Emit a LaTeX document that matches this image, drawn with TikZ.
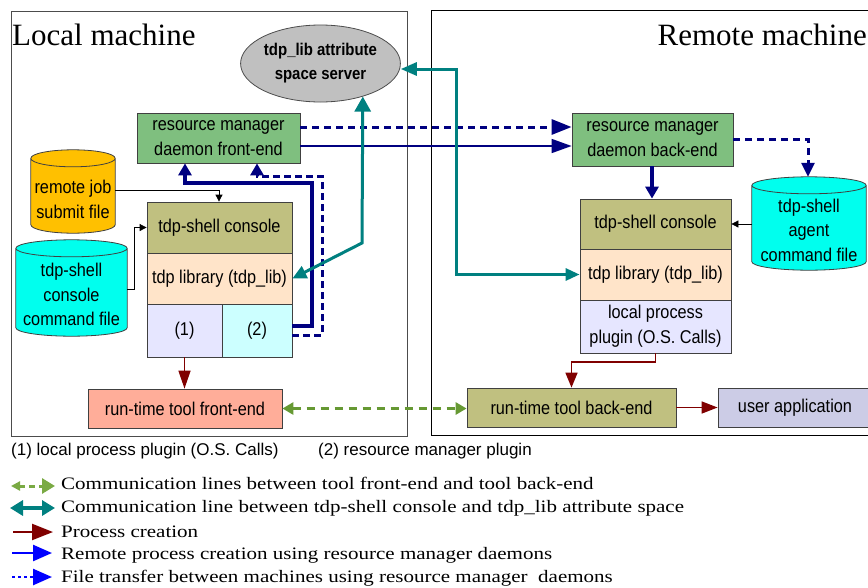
\documentclass[tikz,border=0pt]{standalone}
\usepackage{fontspec}
\setmainfont{Liberation Serif}
\newfontfamily\boxfont[FakeStretch=0.88]{Liberation Sans}
\newfontfamily\notefont{Liberation Sans}
\newfontfamily\legfont[FakeStretch=1.2]{Liberation Serif}
\usetikzlibrary{arrows.meta,shapes.geometric,calc}
\definecolor{cfe}{HTML}{7FBF7F}
\definecolor{colive}{HTML}{C0C080}
\definecolor{cpeach}{HTML}{FFE4C9}
\definecolor{clav}{HTML}{E6E6FF}
\definecolor{clcyan}{HTML}{CCFFFF}
\definecolor{csalmon}{HTML}{FFAD99}
\definecolor{corange}{HTML}{FFC000}
\definecolor{ccyan}{HTML}{00FFEE}
\definecolor{cgray}{HTML}{C0C0C0}
\definecolor{cua}{HTML}{CCCCE6}
\definecolor{navyb}{HTML}{000080}
\definecolor{tealc}{HTML}{008080}
\definecolor{redd}{HTML}{800000}
\definecolor{greend}{HTML}{669933}
\definecolor{greenl}{HTML}{7AAA44}
\definecolor{blueb}{HTML}{0000FF}
\newcommand\drawcyl[2]{%
  \path[draw=black!75, line width=0.8pt, fill=#2] let \p1=(#1.north west), \p2=(#1.south east) in
   ({\x1},{\y1-8.5pt}) -- ({\x1},{\y2+8.5pt})
   arc[start angle=180,end angle=360,x radius={(\x2-\x1)/2},y radius=8.5pt]
   -- ({\x2},{\y1-8.5pt})
   arc[start angle=0,end angle=180,x radius={(\x2-\x1)/2},y radius=8.5pt] -- cycle
   ({\x1},{\y1-8.5pt}) arc[start angle=180,end angle=360,x radius={(\x2-\x1)/2},y radius=8.5pt];}
\begin{document}
\begin{tikzpicture}[x=1pt,y=-1pt,
  box/.style={draw=black!75, line width=0.8pt, inner sep=0pt, align=center,
    font=\boxfont\fontsize{18.5}{25}\selectfont},
  cylarea/.style={draw=none, inner sep=0pt},
  cyltext/.style={inner sep=0pt, align=center, font=\boxfont\fontsize{18.5}{24.5}\selectfont},
  note/.style={anchor=west, inner sep=0pt, font=\notefont\fontsize{17}{20}\selectfont},
  legtext/.style={anchor=west, inner sep=0pt, font=\legfont\fontsize{17.5}{20}\selectfont},
  thinblk/.style={black, line width=0.8pt, -{Triangle[length=7pt,width=7pt]}},
  procarrow/.style={redd, line width=1.6pt},
  rmdash/.style={navyb, line width=3pt, dash pattern=on 7pt off 5pt},
  rmsolid/.style={navyb, line width=3.5pt},
  tealline/.style={tealc, line width=3pt}
]
\useasboundingbox (0,0) rectangle (868,587);
\fill[white] (0,0) rectangle (868,587);

% machine frames
\draw[black!70, line width=1pt] (11,11) rectangle (407,436);
\draw[black, line width=1pt] (431,10) rectangle (885,435);
\node[anchor=base west, inner sep=0pt, font=\fontsize{31}{31}\selectfont] (lmt) at (12,45) {Local machine};
\node[anchor=base east, inner sep=0pt, font=\fontsize{31}{31}\selectfont] (rmt) at (867,45) {Remote machine};

% attribute space server
\node[ellipse, draw=black!70, line width=0.8pt, fill=cgray, minimum width=151pt, minimum height=77pt,
  inner sep=0pt, align=center, font=\boxfont\bfseries\fontsize{17}{24}\selectfont] (ell) at (320.5,63.5)
  {tdp\_lib attribute\\space server};

% local machine
\node[box, fill=cfe, minimum width=163pt, minimum height=50pt] (fe) at (218.5,138) {resource manager\\daemon front-end};
\node[box, fill=colive, minimum width=145pt, minimum height=51pt] (conL) at (219.5,227.5) {tdp-shell console};
\node[box, fill=cpeach, minimum width=145pt, minimum height=51pt] (libL) at (219.5,278.5) {tdp library (tdp\_lib)};
\node[box, fill=clav, minimum width=75pt, minimum height=53pt] (p1) at (184.5,330.5) {(1)};
\node[box, fill=clcyan, minimum width=70pt, minimum height=53pt] (p2) at (257,330.5) {(2)};
\node[box, fill=csalmon, minimum width=194pt, minimum height=39pt] (rtfe) at (185,408.5) {run-time tool front-end};

\node[cylarea, minimum width=84pt, minimum height=83pt] (rj) at (73,191.5) {};
\drawcyl{rj}{corange}
\node[cyltext] (rjt) at (73,199.5) {remote job\\submit file};
\node[cylarea, minimum width=111pt, minimum height=96pt] (cf) at (71.5,288) {};
\drawcyl{cf}{ccyan}
\node[cyltext] (cft) at (71.5,294.5) {tdp-shell\\console\\command file};

% remote machine
\node[box, fill=cfe, minimum width=161pt, minimum height=53pt] (be) at (652.5,139.5) {resource manager\\daemon back-end};
\node[box, fill=colive, minimum width=151pt, minimum height=50pt] (conR) at (655.5,224) {tdp-shell console};
\node[box, fill=cpeach, minimum width=151pt, minimum height=51pt] (libR) at (655.5,274.5) {tdp library (tdp\_lib)};
\node[box, fill=clav, minimum width=151pt, minimum height=53pt] (plug) at (655.5,326.5) {local process\\plugin (O.S. Calls)};
\node[box, fill=colive, minimum width=209pt, minimum height=39pt] (rtbe) at (571.5,407.5) {run-time tool back-end};
\node[box, fill=cua, minimum width=154pt, minimum height=39pt] (ua) at (795,407.5) {user application};

\node[cylarea, minimum width=114pt, minimum height=93pt] (agent) at (809,223.5) {};
\drawcyl{agent}{ccyan}
\node[cyltext] (agt) at (809,230) {tdp-shell\\agent\\command file};

% resource manager connectors
\draw[rmdash, -{Triangle[length=20pt,width=15pt]}] (fe.east |- 0,127) -- (be.west |- 0,127);
\draw[navyb, line width=1.6pt, -{Triangle[length=20pt,width=14pt]}] (fe.east |- 0,146) -- (be.west |- 0,146);
\draw[rmdash, -{Triangle[length=14pt,width=13pt]}] (be.east |- 0,139) -| (agent.north -| 808,0);
\draw[rmsolid, -{Triangle[length=12pt,width=13pt]}] (be.south -| 652,0) -- (conR.north -| 652,0);
\draw[rmsolid, -{Triangle[length=12pt,width=13pt]}] (p2.east |- 0,326) -- (312,326) -- (312,183) -- (185,183) -- (fe.south -| 185,0);
\draw[rmdash, dash pattern=on 7pt off 4pt, -{Triangle[length=12pt,width=13pt]}] (p2.east |- 0,335) -- (322,335) -- (322,176) -- (257,176) -- (fe.south -| 257,0);

% command files
\draw[thinblk] (rj.east |- 0,190) -| (conL.north -| 219,0);
\draw[thinblk] (cf.east |- 0,289) -- (134,289) |- (conL.west);
\draw[thinblk] (agent.west |- 0,224) -- (conR.east);

% process creation
\draw[procarrow, -{Triangle[length=18pt,width=12pt]}] (p1.south) -- (p1.south |- rtfe.north);
\draw[procarrow, -{Triangle[length=15pt,width=12pt]}] (plug.south) -- (plug.south |- 0,362) -| (rtbe.north);
\draw[procarrow, -{Triangle[length=16pt,width=12pt]}] (rtbe.east) -- (ua.west);

% tool communication
\draw[greend, line width=3pt, dash pattern=on 8pt off 6pt,
  {Triangle[length=11pt,width=12pt]}-{Triangle[length=11pt,width=12pt]}] (rtfe.east) -- (rtfe.east -| rtbe.west);

% attribute space communication
\draw[tealline, {Triangle[length=16pt,width=13pt]}-{Triangle[length=14pt,width=12pt]}] (ell.east |- 0,69) -- (456,69) |- (libR.west);
\draw[tealline, {Triangle[length=14pt,width=13pt]}-{Triangle[length=15pt,width=16pt]}] (libL.east) -- (362,243) -- (ell.-38);

% footnotes
\node[note] (n1) at (11,451) {(1) local process plugin (O.S. Calls)};
\node[note] (n2) at (318,451) {(2) resource manager plugin};

% legend
\coordinate (a1) at (11,486); \coordinate (b1) at (55,486);
\coordinate (a2) at (10,508); \coordinate (b2) at (55,508);
\coordinate (a3) at (13,532); \coordinate (b3) at (53,532);
\coordinate (a4) at (12,553); \coordinate (b4) at (52,553);
\coordinate (a5) at (12,577); \coordinate (b5) at (52,577);
\draw[greenl, line width=3pt, dash pattern=on 6pt off 4pt,
  {Triangle[length=9pt,width=9pt]}-{Triangle[length=13pt,width=15pt]}] (a1) -- (b1);
\draw[tealc, line width=3.5pt, {Triangle[length=13pt,width=15pt]}-{Triangle[length=13pt,width=15pt]}] (a2) -- (b2);
\draw[redd, line width=2.2pt, -{Triangle[length=21pt,width=16pt]}] (a3) -- (b3);
\draw[blueb, line width=2.5pt, -{Triangle[length=19pt,width=16pt]}] (a4) -- (b4);
\draw[blueb, line width=2.5pt, dash pattern=on 3pt off 3pt, -{Triangle[length=19pt,width=16pt]}] (a5) -- (b5);
\node[legtext] (t1) at (61,483) {Communication lines between tool front-end and tool back-end};
\node[legtext] (t2) at (61,508) {Communication line between tdp-shell console and tdp\_lib attribute space};
\node[legtext] (t3) at (61,532) {Process creation};
\node[legtext] (t4) at (61,555) {Remote process creation using resource manager daemons};
\node[legtext] (t5) at (61,578) {File transfer between machines using resource manager\ \ daemons};
\end{tikzpicture}
\end{document}
